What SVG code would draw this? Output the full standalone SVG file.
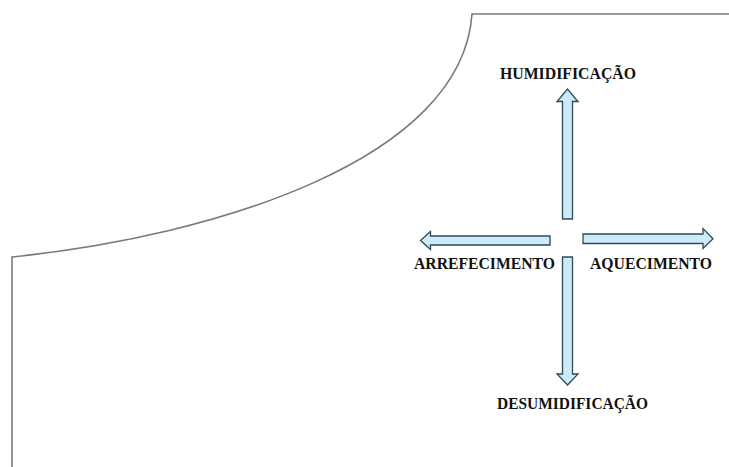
<svg xmlns="http://www.w3.org/2000/svg" width="729" height="467" viewBox="0 0 729 467">
<style>
.bg{fill:#ffffff}
.boundary{fill:none;stroke:#7a7a7a;stroke-width:1.6}
.arrow{fill:#cdeaf8;stroke:#2c4a5c;stroke-width:1.3;stroke-linejoin:miter}
.lbl{font-family:"Liberation Serif","Times New Roman",serif;font-weight:bold;font-size:16.5px;fill:#111111}
</style>
<rect class="bg" x="0" y="0" width="729" height="467"/>
<g id="boundary">
<path class="boundary" d="M729,14 L472,14 C462,160 215,236 12,257 L12,467"/>
</g>
<g id="connectors">
<path id="arrow-up" class="arrow" d="M562.5,219 L562.5,101.5 L557,101.5 L567.5,89 L578,101.5 L572.5,101.5 L572.5,219 Z"/>
<path id="arrow-left" class="arrow" d="M550,236 L430.5,236 L430.5,231.5 L420.5,240.5 L430.5,249.5 L430.5,245 L550,245 Z"/>
<path id="arrow-right" class="arrow" d="M583,234 L703,234 L703,228.5 L713,238.8 L703,248.5 L703,243.5 L583,243.5 Z"/>
<path id="arrow-down" class="arrow" d="M562.5,257 L562.5,374 L557,374 L567.5,385 L578,374 L572.5,374 L572.5,257 Z"/>
</g>
<g id="humidificacao">
<text class="lbl" x="500" y="78.5" textLength="136" lengthAdjust="spacingAndGlyphs">HUMIDIFICAÇÃO</text>
</g>
<g id="arrefecimento">
<text class="lbl" x="414" y="268.5" textLength="141" lengthAdjust="spacingAndGlyphs">ARREFECIMENTO</text>
</g>
<g id="aquecimento">
<text class="lbl" x="590" y="268.5" textLength="122" lengthAdjust="spacingAndGlyphs">AQUECIMENTO</text>
</g>
<g id="desumidificacao">
<text class="lbl" x="497" y="408.5" textLength="151" lengthAdjust="spacingAndGlyphs">DESUMIDIFICAÇÃO</text>
</g>
</svg>
